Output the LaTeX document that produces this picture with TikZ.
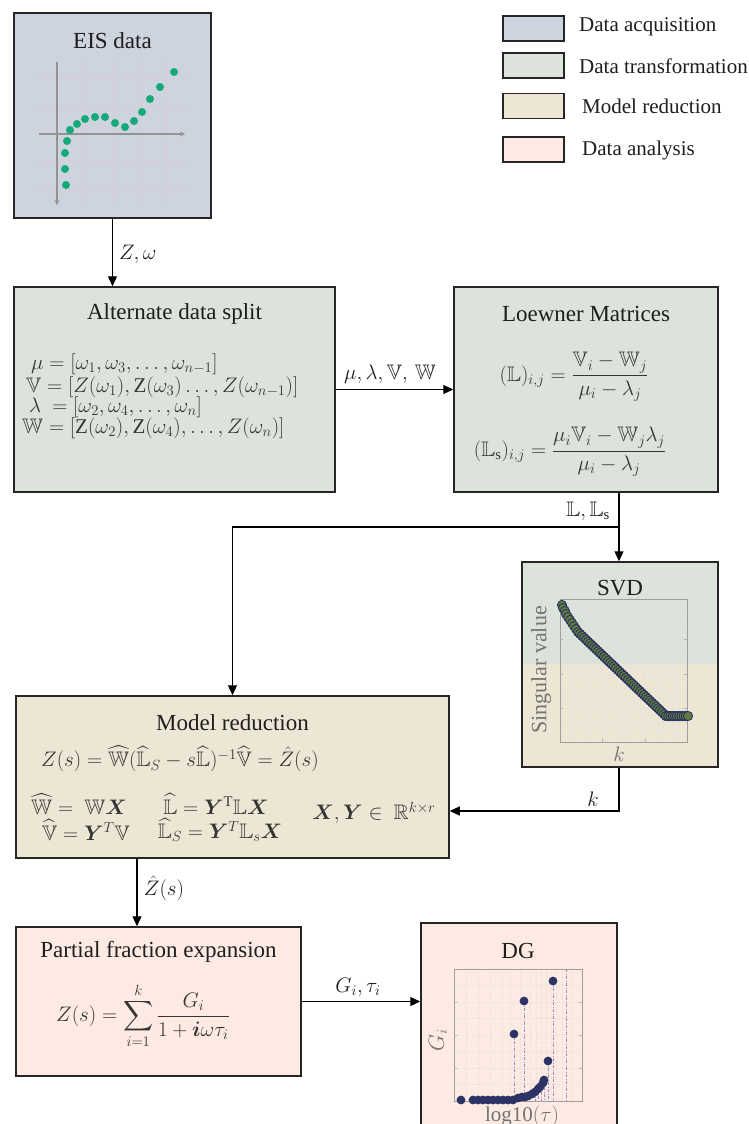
\RequirePackage{fix-cm}
\documentclass[tikz,border=0pt]{standalone}
\usepackage{amsmath,amssymb,bm}
\DeclareFontFamily{U}{msb}{}
\DeclareFontShape{U}{msb}{m}{n}{<-6>msbm5<6-8>msbm7<8->msbm10}{}
\usepackage{fontspec}
\setmainfont{Liberation Serif}
\usetikzlibrary{arrows.meta,calc}
\definecolor{cAcq}{RGB}{205,211,223}
\definecolor{cTrans}{RGB}{220,227,219}
\definecolor{cRed}{RGB}{237,230,213}
\definecolor{cAna}{RGB}{252,234,227}
\definecolor{dotgreen}{RGB}{20,170,120}
\definecolor{navy}{RGB}{43,50,100}
\definecolor{olivegr}{RGB}{95,125,60}
\definecolor{gridc}{RGB}{214,206,212}
\definecolor{txt}{RGB}{30,30,30}
\definecolor{dgline}{RGB}{150,140,190}
\begin{document}
\begin{tikzpicture}[x=1pt,y=-1pt,
  box/.style={draw=black!85, line width=1.5pt, inner sep=0pt, rectangle},
  legbox/.style={draw=black!85, line width=1.5pt, inner sep=0pt, rectangle, minimum width=61pt, minimum height=25pt},
  arr/.style={-{Triangle[length=10pt,width=9pt]}, line width=1.2pt},
  ttl/.style={font=\fontsize{23}{27}\selectfont, text=txt, inner sep=0pt},
  legtxt/.style={font=\fontsize{21}{25}\selectfont, text=txt, inner sep=0pt, anchor=west},
  eq/.style={font=\fontsize{21}{25}\selectfont, text=txt!90, inner sep=0pt},
  lab/.style={font=\fontsize{21}{25}\selectfont, text=txt, inner sep=0pt},
  gdot/.style={fill=dotgreen, draw=none},
  ndot/.style={fill=navy, draw=none},
  mk/.style={draw=navy, fill=olivegr, line width=0.9pt},
  faint/.style={draw=gray!25, line width=0.5pt, dotted},
  frame/.style={draw=gray!75, line width=0.7pt},
  dgdash/.style={draw=dgline, line width=0.7pt, dash pattern=on 3pt off 1.5pt on 1pt off 1.5pt}
]
\useasboundingbox (0,0) rectangle (749,1124);
\clip (0,0) rectangle (749,1124);
\fill[white] (0,0) rectangle (749,1124);

% ---------- Legend
\node[legbox, fill=cAcq]  (l1) at (533.5,28.5) {};
\node[legbox, fill=cTrans] (l2) at (533.5,65.5) {};
\node[legbox, fill=cRed]  (l3) at (533.5,106) {};
\node[legbox, fill=cAna]  (l4) at (533.5,149.5) {};
\node[legtxt] (lt1) at (579,27) {Data acquisition};
\node[legtxt] (lt2) at (579,66) {Data transformation};
\node[legtxt] (lt3) at (582,106) {Model reduction};
\node[legtxt] (lt4) at (582,150) {Data analysis};

% ---------- EIS data
\node[box, fill=cAcq, minimum width=197pt, minimum height=205pt] (eis) at (112.5,115.5) {};
\node[ttl] (eist) at (112.5,41) {EIS data};
\foreach \gx in {84,112,139,167} \draw[gridc, line width=0.7pt] (\gx,62) -- (\gx,205);
\foreach \gy in {78,106,161,189} \draw[gridc, line width=0.7pt] (39,\gy) -- (185,\gy);
\draw[gray!85, line width=1.2pt, -{Stealth[length=5pt,width=5pt]}] (57,62) -- (57,205);
\draw[gray!85, line width=1.2pt, -{Stealth[length=5pt,width=5pt]}] (39,134) -- (185,134);
\foreach \px/\py in {66/185,65/169,65/153,67/141,70/130,77/124,85/119,95/117,105/117,115/123,125/127,134/121,142/112,150/99,160/87,174/72}
  \fill[gdot] (\px,\py) circle (4pt);

% ---------- Alternate data split
\node[box, fill=cTrans, minimum width=321pt, minimum height=205pt] (split) at (174.5,389.5) {};
\node[ttl] (splitt) at (174.5,314) {Alternate data split};
\node[eq, anchor=west] (e1) at (31,364) {$\mu = [\omega_1, \omega_3, \dots, \omega_{n-1}]$};
\node[eq, anchor=west] (e2) at (26,387) {$\mathbb{V} = [Z(\omega_1), \mathrm{Z}(\omega_3)\dots, Z(\omega_{n-1})]$};
\node[eq, anchor=west] (e3) at (29,407) {$\lambda\ = [\omega_2, \omega_4, \dots, \omega_n]$};
\node[eq, anchor=west] (e4) at (22,428) {$\mathbb{W} = [\mathrm{Z}(\omega_2), \mathrm{Z}(\omega_4), \dots, Z(\omega_n)]$};

% ---------- Loewner
\node[box, fill=cTrans, minimum width=264pt, minimum height=205pt] (loew) at (586,389.5) {};
\node[ttl] (loewt) at (586,314) {Loewner Matrices};
\node[eq] (le1) at (574,377) {$\displaystyle (\mathbb{L})_{i,j} = \frac{\mathbb{V}_i - \mathbb{W}_j}{\mu_i - \lambda_j}$};
\node[eq] (le2) at (570,452) {$\displaystyle (\mathbb{L}_{\mathrm{s}})_{i,j} = \frac{\mu_i\mathbb{V}_i - \mathbb{W}_j\lambda_j}{\mu_i - \lambda_j}$};

% ---------- SVD
\fill[cTrans] (522,562) rectangle (718,664);
\fill[cRed] (522,664) rectangle (718,767);
\node[box, minimum width=196pt, minimum height=205pt] (svd) at (620,664.5) {};
\node[ttl] (svdt) at (620,588) {$\mathrm{SVD}$};
\foreach \gx in {574,588,602,616,630,644,658,672} \draw[faint] (\gx,599) -- (\gx,742);
\foreach \gy in {613,627,639,653,667,674,688,701,708,722} \draw[faint] (560,\gy) -- (687,\gy);
\draw[frame] (560,599) rectangle (687,742);
\foreach \gy in {639,674,708} { \draw[gray!60, line width=0.5pt] (560,\gy) -- (563,\gy); \draw[gray!60, line width=0.5pt] (687,\gy) -- (684,\gy); }
\foreach \gx in {602,645} { \draw[gray!60, line width=0.5pt] (\gx,742) -- (\gx,739); }
\node[font=\fontsize{22}{26}\selectfont, text=gray!90!black, rotate=90, inner sep=0pt] (svdy) at (541,670) {$\mathrm{Singular\ value}$};
\node[font=\fontsize{21}{25}\selectfont, text=gray!90!black, inner sep=0pt] (svdx) at (619,754) {$k$};
\foreach \px/\py in {562/605,563/608,565/611,566/614,568/617,570/620,572/623,574/626,576/629}
  \path[mk] (\px,\py) circle (4.6pt);
\foreach \i in {0,...,44} \path[mk] ({578+88*\i/44},{632+84*\i/44}) circle (4.6pt);
\foreach \i in {0,...,10} \path[mk] ({666+22*\i/10},716) circle (4.6pt);

% ---------- Model reduction
\node[box, fill=cRed, minimum width=433pt, minimum height=162pt] (mred) at (232.5,777) {};
\node[ttl] (mredt) at (232.5,723) {Model reduction};
\node[eq] (m1) at (180,759) {$Z(s) = \widehat{\mathbb{W}}(\widehat{\mathbb{L}}_S - s\widehat{\mathbb{L}})^{-1}\widehat{\mathbb{V}} = \hat{Z}(s)$};
\node[eq] (m2) at (79,804) {$\widehat{\mathbb{W}} =\ \mathbb{W}\bm{X}$};
\node[eq] (m3) at (216,804) {$\widehat{\mathbb{L}} = \bm{Y}^{\mathrm{T}}\mathbb{L}\bm{X}$};
\node[eq] (m4) at (86,830) {$\widehat{\mathbb{V}} = \bm{Y}^{T}\mathbb{V}$};
\node[eq] (m5) at (220,830) {$\widehat{\mathbb{L}}_S = \bm{Y}^{T}\mathbb{L}_s\bm{X}$};
\node[eq] (m6) at (374,813) {$\bm{X},\bm{Y} \in\ \mathbb{R}^{k\times r}$};

% ---------- Partial fraction
\node[box, fill=cAna, minimum width=285pt, minimum height=149pt] (pfe) at (158.5,1001.5) {};
\node[ttl] (pfet) at (158.5,952) {Partial fraction expansion};
\node[eq] (pe) at (143,1016) {$\displaystyle Z(s) = \sum_{i=1}^{k}\frac{G_i}{1 + \bm{i}\omega\tau_i}$};

% ---------- DG
\node[box, fill=cAna, minimum width=196pt, minimum height=217pt] (dg) at (519,1031.5) {};
\node[ttl] (dgt) at (518,951) {$\mathrm{DG}$};
\foreach \gx in {466,478,490,502,510,520,530,536,541,546,551,556,562,572} \draw[faint] (\gx,969) -- (\gx,1101);
\foreach \gy in {985,1002,1018,1035,1051,1068,1084} \draw[faint] (454,\gy) -- (582,\gy);
\draw[frame] (454,969) rectangle (582,1101);
\foreach \gy in {1002,1035,1068} { \draw[gray!60, line width=0.5pt] (454,\gy) -- (457,\gy); \draw[gray!60, line width=0.5pt] (582,\gy) -- (579,\gy); }
\foreach \gx/\gy in {514/1034,524/1001,548/1061,553/981,566/969,544/1080,541/1085,538/1089,535/1092}
  \draw[dgdash] (\gx,\gy) -- (\gx,1101);
\foreach \px/\py in {461/1100,473/1100,478/1100,483/1100,488/1100,493/1100,498/1100,503/1100,508/1100,513/1100,518/1098,522/1097,525/1097,528/1096,532/1094,535/1092,538/1089,540/1087,543/1083,544/1080,548/1061,514/1034,524/1001,553/981}
  \fill[ndot] (\px,\py) circle (4.4pt);
\node[font=\fontsize{22}{26}\selectfont, text=gray!90!black, rotate=90, inner sep=0pt] (dgy) at (438,1040) {$G_i$};
\node[font=\fontsize{21}{25}\selectfont, text=gray!90!black, inner sep=0pt] (dgx) at (522,1116) {$\mathrm{log10}(\tau)$};

% ---------- Connectors
\draw[arr] (eis.south) -- (eis.south |- split.north);
\node[lab, anchor=west] (lz) at (119,254) {$Z,\omega$};

\draw[arr] (split.east) -- (loew.west);
\node[lab] (lmu) at (390,374) {$\mu, \lambda, \mathbb{V},\, \mathbb{W}$};

\coordinate (lsplit) at (619,527);
\coordinate (lleft) at (232.5,527);
\draw[line width=1.2pt] (lsplit |- loew.south) -- (lsplit);
\draw[arr] (lsplit) -- (lsplit |- svd.north);
\draw[arr] (lsplit) -- (lleft) -- (mred.north);
\node[lab] (lls) at (588,511) {$\mathbb{L}, \mathbb{L}_{\mathrm{s}}$};

\coordinate (kturn) at (619,811);
\draw[arr] (kturn |- svd.south) -- (kturn) -- (kturn -| mred.east);
\node[lab] (lk) at (593,799) {$k$};

\coordinate (zfrom) at (137,858);
\draw[arr] (zfrom) -- (zfrom |- pfe.north);
\node[lab] (lzh) at (164,888) {$\hat{Z}(s)$};

\draw[arr] (pfe.east) -- (pfe.east -| dg.west);
\node[lab] (lg) at (358,987) {$G_i, \tau_i$};
\end{tikzpicture}
\end{document}
